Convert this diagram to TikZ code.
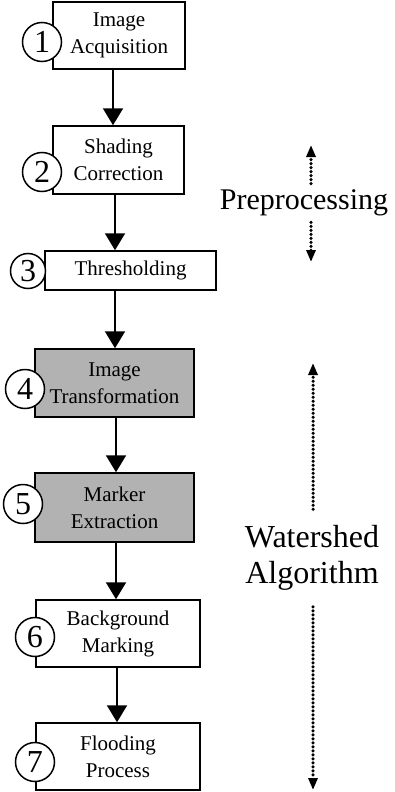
\documentclass[tikz,border=0pt]{standalone}
\usepackage{fontspec}
\setmainfont{Liberation Serif}
\usetikzlibrary{arrows.meta}
\tikzstyle{stepbox}=[draw=black,line width=1.5pt,align=center,inner sep=0pt,font=\fontsize{21}{27}\selectfont]
\tikzstyle{wsbox}=[stepbox,fill=black!30]
\tikzstyle{numcirc}=[draw=black,line width=1.5pt,fill=white,circle,inner sep=0pt,minimum size=39pt,font=\fontsize{32}{32}\selectfont]
\tikzstyle{flow}=[line width=2pt,-{Triangle[length=17pt,width=20pt]}]
\tikzstyle{phase}=[line width=3.5pt,line cap=round,dash pattern=on 0pt off 4pt,-{Triangle[length=12pt,width=9pt]}]
\tikzstyle{phasetext}=[align=center,inner xsep=0pt]

\begin{document}
\begin{tikzpicture}[x=1pt,y=-1pt]
  \useasboundingbox (0,0) rectangle (394,792);

  % steps
  \node[stepbox,minimum width=132pt,minimum height=67pt] (b1) at (119,35.5) {Image\\Acquisition};
  \node[stepbox,minimum width=131pt,minimum height=68pt] (b2) at (118.5,160) {Shading\\Correction};
  \node[stepbox,minimum width=171pt,minimum height=39pt] (b3) at (130.5,270.5) {Thresholding};
  \node[wsbox,minimum width=159pt,minimum height=68pt] (b4) at (114.5,383) {Image\\Transformation};
  \node[wsbox,minimum width=159pt,minimum height=69pt] (b5) at (114.5,507.5) {Marker\\Extraction};
  \node[stepbox,minimum width=164pt,minimum height=67pt] (b6) at (118,633.5) {Background\\Marking};
  \node[stepbox,minimum width=164pt,minimum height=67pt] (b7) at (118,756.5) {Flooding\\Process};

  \node[numcirc] (c1) at (42,42) {1};
  \node[numcirc] (c2) at (42,172) {2};
  \node[numcirc,minimum size=35pt] (c3) at (28,271) {3};
  \node[numcirc] (c4) at (25,389) {4};
  \node[numcirc] (c5) at (23,504) {5};
  \node[numcirc] (c6) at (35,637) {6};
  \node[numcirc] (c7) at (35,762) {7};

  \draw[flow] (b1.south -| 113,0) -- (b2.north -| 113,0);
  \draw[flow] (b2.south -| 115,0) -- (b3.north -| 115,0);
  \draw[flow] (b3.south -| 115,0) -- (b4.north -| 115,0);
  \draw[flow] (b4.south -| 116,0) -- (b5.north -| 116,0);
  \draw[flow] (b5.south -| 116,0) -- (b6.north -| 116,0);
  \draw[flow] (b6.south -| 117,0) -- (b7.north -| 117,0);

  % phases
  \node[phasetext,inner ysep=6pt,font=\fontsize{30}{36}\selectfont] (pre) at (304,203) {Preprocessing};
  \node[phasetext,inner ysep=16pt,font=\fontsize{32}{36}\selectfont] (ws) at (312,558) {Watershed\\Algorithm};
  \coordinate (preup) at (311,145);
  \coordinate (predown) at (311,262);
  \coordinate (wsup) at (313,363);
  \coordinate (wsdown) at (313,790);
  \draw[phase] (pre.north -| preup) -- (preup);
  \draw[phase] (pre.south -| predown) -- (predown);
  \draw[phase] (ws.north -| wsup) -- (wsup);
  \draw[phase] (ws.south -| wsdown) -- (wsdown);
\end{tikzpicture}
\end{document}
